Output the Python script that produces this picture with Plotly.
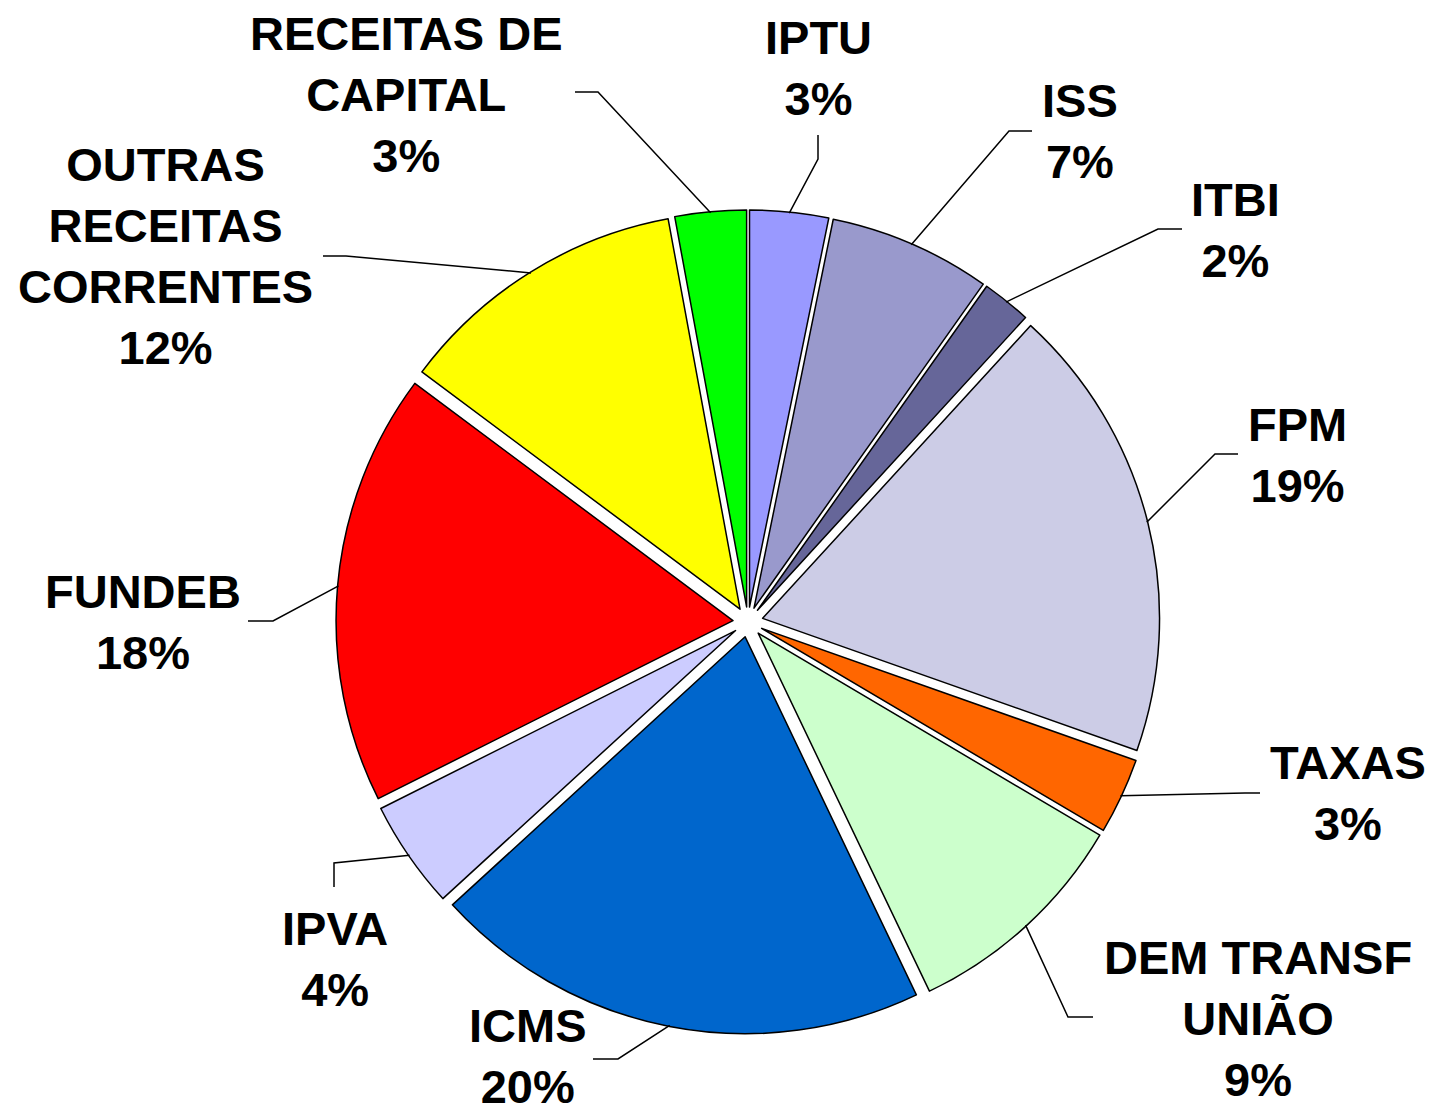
import math
import plotly.graph_objects as go

# ---- data ----
categories = ["IPTU", "ISS", "ITBI", "FPM", "TAXAS", "DEM TRANSF<br>UNIÃO", "ICMS",
              "IPVA", "FUNDEB", "OUTRAS<br>RECEITAS<br>CORRENTES", "RECEITAS DE<br>CAPITAL"]
values = [3.2, 6.6, 2.0, 18.6, 3.1, 9.4, 20.3, 4.4, 17.6, 11.9, 2.9]
colors = ["#9999FF", "#9999CC", "#666699", "#CCCCE6", "#FF6600", "#CCFFCC", "#0066CC",
          "#CCCCFF", "#FF0000", "#FFFF00", "#00FF00"]

# ---- layout (pixels) ----
W, H = 1429, 1109
CX, CY = 748, 622        # pie centre
RT = 412                 # outer radius including pull
PULL = 0.038

# label block centres (px)
label_pos = [(818, 68), (1080, 131), (1235, 230), (1297, 455), (1348, 793),
             (1258, 1018), (528, 1056), (335, 959), (143, 622), (165, 256), (406, 95)]
# leader line start & elbow (px)
leader = [((818, 135), (818, 159)), ((1032, 131), (1009, 131)), ((1182, 229), (1158, 229)),
          ((1238, 454), (1215, 454)), ((1260, 793), (1245, 793)), ((1093, 1017), (1068, 1017)),
          ((593, 1059), (618, 1059)), ((334, 887), (334, 863)), ((248, 621), (273, 621)),
          ((323, 256), (346, 256)), ((575, 92), (598, 92))]


def px(x, y):
    return x / W, 1 - y / H


fig = go.Figure(go.Pie(
    labels=categories, values=values, sort=False, direction="clockwise", rotation=0,
    marker=dict(colors=colors, line=dict(color="black", width=1.5)),
    pull=[PULL] * len(values), textinfo="none", hoverinfo="skip", showlegend=False,
    domain=dict(x=[(CX - RT) / W, (CX + RT) / W], y=[1 - (CY + RT) / H, 1 - (CY - RT) / H]),
))

total = sum(values)
cum = 0.0
shapes, annotations = [], []
for i, v in enumerate(values):
    mid = (cum + v / 2) / total * 2 * math.pi
    cum += v
    ax = CX + (RT - 1) * math.sin(mid)
    ay = CY - (RT - 1) * math.cos(mid)
    (sx, sy), (ex, ey) = leader[i]
    p0, p1, p2 = px(sx, sy), px(ex, ey), px(ax, ay)
    shapes.append(dict(type="path", xref="paper", yref="paper",
                       path=f"M {p0[0]},{p0[1]} L {p1[0]},{p1[1]} L {p2[0]},{p2[1]}",
                       line=dict(color="black", width=1.5)))
    pct = round(v / total * 100)
    lx, ly = px(*label_pos[i])
    annotations.append(dict(x=lx, y=ly, xref="paper", yref="paper", xanchor="center",
                            yanchor="middle", showarrow=False, align="center",
                            text=f"{categories[i]}<br>{pct}%",
                            font=dict(family="Liberation Sans, Arial, sans-serif",
                                      size=47, color="black", weight="bold")))

fig.update_layout(width=W, height=H, margin=dict(l=0, r=0, t=0, b=0),
                  paper_bgcolor="white", plot_bgcolor="white",
                  shapes=shapes, annotations=annotations)
fig.write_html("out.html", config={"displayModeBar": False},
               post_script="document.body.style.margin='0';document.body.style.overflow='hidden';")
